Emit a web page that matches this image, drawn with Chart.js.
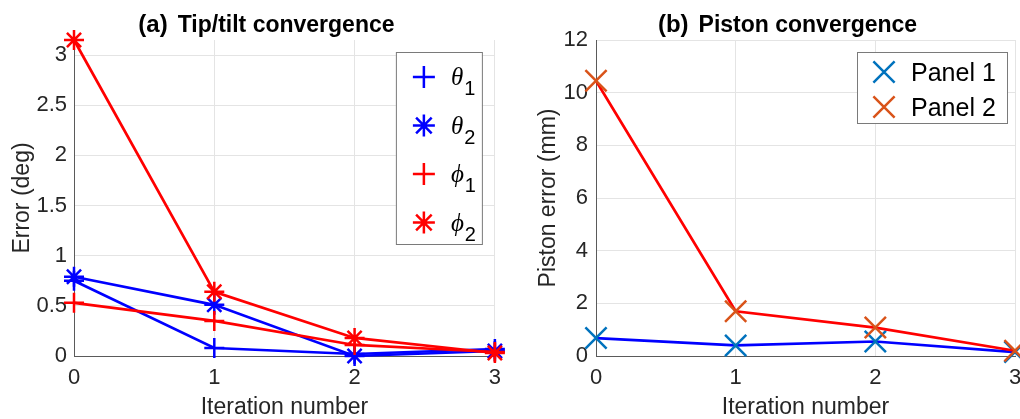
<!DOCTYPE html>
<html>
<head>
<meta charset="utf-8">
<script src="https://cdn.jsdelivr.net/npm/chart.js@4/dist/chart.umd.min.js"></script>
<style>
  html, body { margin: 0; padding: 0; background: #fff; overflow: hidden; width: 1020px; height: 419px; }
  #chartA { position: absolute; left: 0; top: 0; }
  #chartB { position: absolute; left: 510px; top: 0; }
</style>
</head>
<body>
<canvas id="chartA" width="510" height="419"></canvas>
<canvas id="chartB" width="530" height="419"></canvas>
<script>
// --- data ---
const iterations = [0, 1, 2, 3];

// (a) tip/tilt error, deg
const theta1 = [0.75, 0.08, 0.02, 0.07];
const theta2 = [0.79, 0.51, 0.00, 0.05];
const phi1 = [0.53, 0.35, 0.11, 0.04];
const phi2 = [3.15, 0.64, 0.18, 0.03];
const tiltSymbols = ['θ', 'θ', 'ϕ', 'ϕ'];
const tiltSubscripts = ['1', '2', '1', '2'];
const tiltTicks = [0, 0.5, 1, 1.5, 2, 2.5, 3];
const tiltMax = 3.15;

// (b) piston error, mm
const panel1 = [0.68, 0.40, 0.55, 0.15];
const panel2 = [10.45, 1.70, 1.08, 0.20];
const pistonNames = ['Panel 1', 'Panel 2'];
const pistonTicks = [0, 2, 4, 6, 8, 10, 12];

const SANS = '"Liberation Sans", Arial, Helvetica, sans-serif';
const INK = '#262626';

function toPoints(ys) {
    return iterations.map((x, i) => ({ x: x, y: ys[i] }));
}

// title like "(a) Tip/tilt convergence" with the tag a bit bigger
const panelTitle = {
    id: 'panelTitle',
    afterDraw(chart, args, opts) {
        const ctx = chart.ctx;
        const area = chart.chartArea;
        ctx.save();
        ctx.fillStyle = '#000';
        ctx.textBaseline = 'alphabetic';
        ctx.textAlign = 'left';
        ctx.font = 'bold 24px ' + SANS;
        const w1 = ctx.measureText(opts.tag).width;
        ctx.font = 'bold 23px ' + SANS;
        const w2 = ctx.measureText(opts.text).width;
        const gap = 10;
        let x = (area.left + area.right) / 2 + opts.shift - (w1 + gap + w2) / 2;
        ctx.font = 'bold 24px ' + SANS;
        ctx.fillText(opts.tag, x, 32);
        ctx.font = 'bold 23px ' + SANS;
        ctx.fillText(opts.text, x + w1 + gap, 32);
        ctx.restore();
    }
};

// boxed legend in the upper right corner of the plot area
const boxLegend = {
    id: 'boxLegend',
    afterDraw(chart, args, opts) {
        const ctx = chart.ctx;
        const area = chart.chartArea;
        const x0 = area.right - opts.right - opts.width;
        const y0 = area.top + opts.top;
        ctx.save();
        ctx.fillStyle = '#fff';
        ctx.fillRect(x0, y0, opts.width, opts.height);
        ctx.strokeStyle = '#7a7a7a';
        ctx.lineWidth = 1;
        ctx.strokeRect(x0 + 0.5, y0 + 0.5, opts.width, opts.height);

        chart.data.datasets.forEach((ds, i) => {
            const cy = y0 + opts.firstRow + i * opts.rowHeight;
            const mx = x0 + opts.markerX;
            ctx.strokeStyle = ds.pointBorderColor;
            ctx.fillStyle = ds.pointBorderColor;
            ctx.lineWidth = ds.pointBorderWidth;
            Chart.helpers.drawPoint(ctx, {
                pointStyle: ds.pointStyle,
                radius: opts.markerRadius,
                rotation: 0,
                borderWidth: ds.pointBorderWidth
            }, mx, cy);

            ctx.fillStyle = '#000';
            ctx.textAlign = 'left';
            ctx.textBaseline = 'alphabetic';
            const tx = x0 + opts.textX;
            if (opts.symbols) {
                ctx.font = 'italic 25px "Liberation Serif", "Times New Roman", serif';
                ctx.fillText(opts.symbols[i], tx, cy + 8);
                const sw = ctx.measureText(opts.symbols[i]).width;
                ctx.font = '20px ' + SANS;
                ctx.fillText(opts.subscripts[i], tx + sw + 1, cy + 18);
            } else {
                ctx.font = '25px ' + SANS;
                ctx.fillText(opts.names[i], tx, cy + 9);
            }
        });
        ctx.restore();
    }
};

function axisX(titlePad) {
    return {
        type: 'linear',
        min: 0,
        max: 3,
        afterBuildTicks: s => { s.ticks = iterations.map(v => ({ value: v })); },
        afterFit: s => { s.height = 63; },
        grid: { color: '#e4e4e4', drawTicks: false, lineWidth: 1 },
        border: { color: '#5a5a5a', width: 1 },
        ticks: { font: { family: SANS, size: 22 }, color: INK, padding: 9, callback: v => String(v) },
        title: {
            display: true,
            text: 'Iteration number',
            font: { family: SANS, size: 23, lineHeight: 1.0 },
            color: INK,
            padding: { top: 0, bottom: titlePad }
        }
    };
}

function axisY(label, ticks, max, width, tickPad, titlePad) {
    return {
        type: 'linear',
        min: 0,
        max: max,
        afterBuildTicks: s => { s.ticks = ticks.map(v => ({ value: v })); },
        afterFit: s => { s.width = width; },
        grid: { color: '#e4e4e4', drawTicks: false, lineWidth: 1 },
        border: { color: '#5a5a5a', width: 1 },
        ticks: { font: { family: SANS, size: 22 }, color: INK, padding: tickPad, callback: v => String(v) },
        title: {
            display: true,
            text: label,
            font: { family: SANS, size: 23, lineHeight: 1.0 },
            color: INK,
            padding: { top: titlePad, bottom: 0 }
        }
    };
}

function series(values, lineColor, markColor, style, radius, order) {
    return {
        data: toPoints(values),
        borderColor: lineColor,
        borderWidth: 2.7,
        pointStyle: style,
        pointRadius: radius,
        pointBorderColor: markColor,
        pointBackgroundColor: markColor,
        pointBorderWidth: 2.5,
        tension: 0,
        clip: false,
        order: order
    };
}

const common = {
    responsive: false,
    animation: false,
    events: [],
    plugins: { legend: { display: false }, tooltip: { enabled: false } }
};

new Chart(document.getElementById('chartA'), {
    type: 'line',
    data: {
        datasets: [
            Object.assign(series(theta1, '#0000ff', '#0000ff', 'cross', 10, 4), { label: 'θ1' }),
            Object.assign(series(theta2, '#0000ff', '#0000ff', 'star', 10, 3), { label: 'θ2' }),
            Object.assign(series(phi1, '#ff0000', '#ff0000', 'cross', 10, 2), { label: 'ϕ1' }),
            Object.assign(series(phi2, '#ff0000', '#ff0000', 'star', 10, 1), { label: 'ϕ2' })
        ]
    },
    options: Object.assign({}, common, {
        layout: { padding: { top: 40, right: 12, left: 0, bottom: 0 } },
        scales: {
            x: axisX(0),
            y: axisY('Error (deg)', tiltTicks, tiltMax, 74, 7, 11)
        },
        plugins: Object.assign({}, common.plugins, {
            panelTitle: { tag: '(a)', text: 'Tip/tilt convergence', shift: -18 },
            boxLegend: {
                right: 13, top: 12, width: 86, height: 192,
                firstRow: 25, rowHeight: 48.5,
                markerX: 28, markerRadius: 11, textX: 55,
                symbols: tiltSymbols, subscripts: tiltSubscripts
            }
        })
    }),
    plugins: [panelTitle, boxLegend]
});

new Chart(document.getElementById('chartB'), {
    type: 'line',
    data: {
        datasets: [
            Object.assign(series(panel1, '#0000ff', '#0072bd', 'crossRot', 15, 2), { label: pistonNames[0] }),
            Object.assign(series(panel2, '#ff0000', '#d95319', 'crossRot', 15, 1), { label: pistonNames[1] })
        ]
    },
    options: Object.assign({}, common, {
        layout: { padding: { top: 40, right: 25, left: 0, bottom: 0 } },
        scales: {
            x: axisX(0),
            y: axisY('Piston error (mm)', pistonTicks, 12, 86, 8, 27)
        },
        plugins: Object.assign({}, common.plugins, {
            panelTitle: { tag: '(b)', text: 'Piston convergence', shift: -18 },
            boxLegend: {
                right: 8, top: 12, width: 150, height: 71,
                firstRow: 20, rowHeight: 35,
                markerX: 27, markerRadius: 15, textX: 54,
                names: pistonNames
            }
        })
    }),
    plugins: [panelTitle, boxLegend]
});
</script>
</body>
</html>
